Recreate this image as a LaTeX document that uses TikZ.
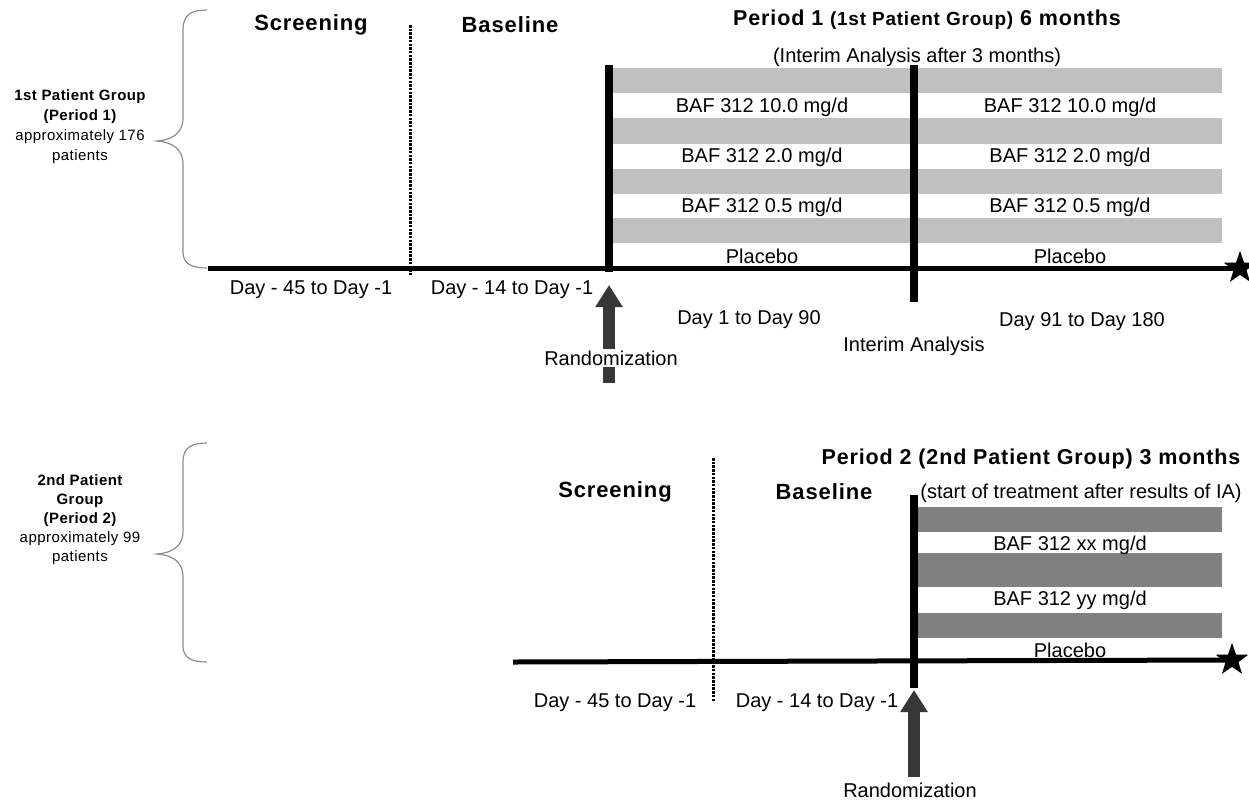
\documentclass[tikz,border=0pt]{standalone}
\usepackage{fontspec}
\setmainfont{Liberation Sans}
\newfontfamily\spc{Liberation Sans}[LetterSpace=4]
\newfontfamily\spcs{Liberation Sans}[LetterSpace=3]
\usetikzlibrary{shapes.geometric,arrows.meta}
\definecolor{barA}{HTML}{C0C0C0}
\definecolor{barB}{HTML}{808080}
\definecolor{arr}{HTML}{383838}
\definecolor{brc}{HTML}{8C8C8C}
\begin{document}
\begin{tikzpicture}[x=1pt,y=-1pt,
 every node/.style={inner sep=0pt, outer sep=0pt},
 hdr/.style={font=\spc\bfseries\fontsize{22}{24}\selectfont},
 ttl/.style={font=\spc\bfseries\fontsize{21.5}{24}\selectfont},
 lbl/.style={font=\fontsize{20}{24}\selectfont},
 grp/.style={font=\spcs\fontsize{15}{20}\selectfont, align=center},
 tl/.style={line width=5pt},
 vbar/.style={line width=8pt},
 dots/.style={line width=3pt, dash pattern=on 2.5pt off 1.2pt},
 brace/.style={draw=brc, line width=1.2pt},
 bandA/.style={fill=barA},
 bandB/.style={fill=barB},
 endstar/.style={star, star points=5, star point ratio=2.5, fill=black, minimum size=34pt},
 randarrow/.style={draw=arr, line width=12pt, -{Triangle[width=26pt,length=22pt]}},
]
\useasboundingbox (0,0) rectangle (1249,801);

%% ---------------- Period 1 ----------------
% brace
\draw[brace] (207,10) .. controls (192,10) and (183,14) .. (183,30) -- (183,118)
  .. controls (183,133) and (172,140) .. (157,141)
  .. controls (172,142) and (183,149) .. (183,164) -- (183,252)
  .. controls (183,264) and (192,268) .. (207,268);
\node[grp] (g1) at (80,127) {{\bfseries 1st Patient Group}\\{\bfseries (Period 1)}\\approximately 176\\patients};

% headers
\node[hdr] (scr1) at (311,25) {Screening};
\node[hdr] (base1) at (510,25) {Baseline};
\node[ttl] (per1) at (927,20) {Period 1 {\fontsize{19}{22}\selectfont (1st Patient Group)} 6 months};
\node[lbl] (ia1) at (917,57) {(Interim Analysis after 3 months)};

% bands
\foreach \ya/\yb in {68/93,118/144,169/194,218/243}
  \fill[bandA] (613,\ya) rectangle (1222,\yb);
\foreach \xc/\n in {762/L,1070/R}{
  \node[lbl] (r1a\n) at (\xc,107) {BAF 312 10.0 mg/d};
  \node[lbl] (r1b\n) at (\xc,157) {BAF 312 2.0 mg/d};
  \node[lbl] (r1c\n) at (\xc,207) {BAF 312 0.5 mg/d};
  \node[lbl] (r1d\n) at (\xc,256) {Placebo};
}

% dotted separator
\coordinate (d1t) at (410,25);
\coordinate (d1b) at (410,275);
\draw[dots] (d1t) -- (d1b);

% timeline
\coordinate (t1s) at (208,268);
\node[endstar] (star1) at (1240,268) {};
\draw[tl] (t1s) -- (star1.center);

% vertical bars
\coordinate (v1t) at (609,65);
\coordinate (v1b) at (609,272);
\coordinate (v2t) at (914,65);
\coordinate (v2b) at (914,302);
\draw[vbar] (v1t) -- (v1b);
\draw[vbar] (v2t) -- (v2b);

% day labels
\node[lbl] (dA1) at (311,290) {Day - 45 to Day -1};
\node[lbl] (dB1) at (512,290) {Day - 14 to Day -1};
\node[lbl] (dC1) at (749,320) {Day 1 to Day 90};
\node[lbl] (ian) at (914,346) {Interim Analysis};
\node[lbl] (dD1) at (1082,322) {Day 91 to Day 180};

% randomization arrow
\coordinate (ra1s) at (609,383);
\coordinate (ra1t) at (609,285);
\draw[randarrow] (ra1s) -- (ra1t);
\node[lbl, fill=white, inner sep=1.5pt] (rand1) at (611,358) {Randomization};

%% ---------------- Period 2 ----------------
\draw[brace] (207,443) .. controls (192,443) and (183,447) .. (183,462) -- (183,532)
  .. controls (183,546) and (172,553) .. (157,554)
  .. controls (172,555) and (183,562) .. (183,576) -- (183,646)
  .. controls (183,658) and (192,662) .. (207,662);
\node[grp, font=\spcs\fontsize{15}{19}\selectfont] (g2) at (80,520) {{\bfseries 2nd Patient}\\{\bfseries Group}\\{\bfseries (Period 2)}\\approximately 99\\patients};

\node[hdr] (scr2) at (615,492) {Screening};
\node[hdr] (base2) at (824,492) {Baseline};
\node[ttl] (per2) at (1031,459) {Period 2 (2nd Patient Group) 3 months};
\node[lbl] (st2) at (1081,493) {(start of treatment after results of IA)};

\foreach \ya/\yb in {507/532,553/587,613/638}
  \fill[bandB] (918,\ya) rectangle (1222,\yb);
\node[lbl] (r2a) at (1070,545) {BAF 312 xx mg/d};
\node[lbl] (r2b) at (1070,600) {BAF 312 yy mg/d};
\node[lbl] (r2c) at (1070,650) {Placebo};

\coordinate (d2t) at (713,458);
\coordinate (d2b) at (713,702);
\draw[dots] (d2t) -- (d2b);

\coordinate (t2s) at (513,662);
\node[endstar] (star2) at (1232,660) {};
\draw[tl] (t2s) -- (star2.center);

\coordinate (v3t) at (914,495);
\coordinate (v3b) at (914,688);
\draw[vbar] (v3t) -- (v3b);

\node[lbl] (dA2) at (615,703) {Day - 45 to Day -1};
\node[lbl] (dB2) at (817,703) {Day - 14 to Day -1};

\coordinate (ra2s) at (914,777);
\coordinate (ra2t) at (914,690);
\draw[randarrow] (ra2s) -- (ra2t);
\node[lbl] (rand2) at (910,790) {Randomization};
\end{tikzpicture}
\end{document}
